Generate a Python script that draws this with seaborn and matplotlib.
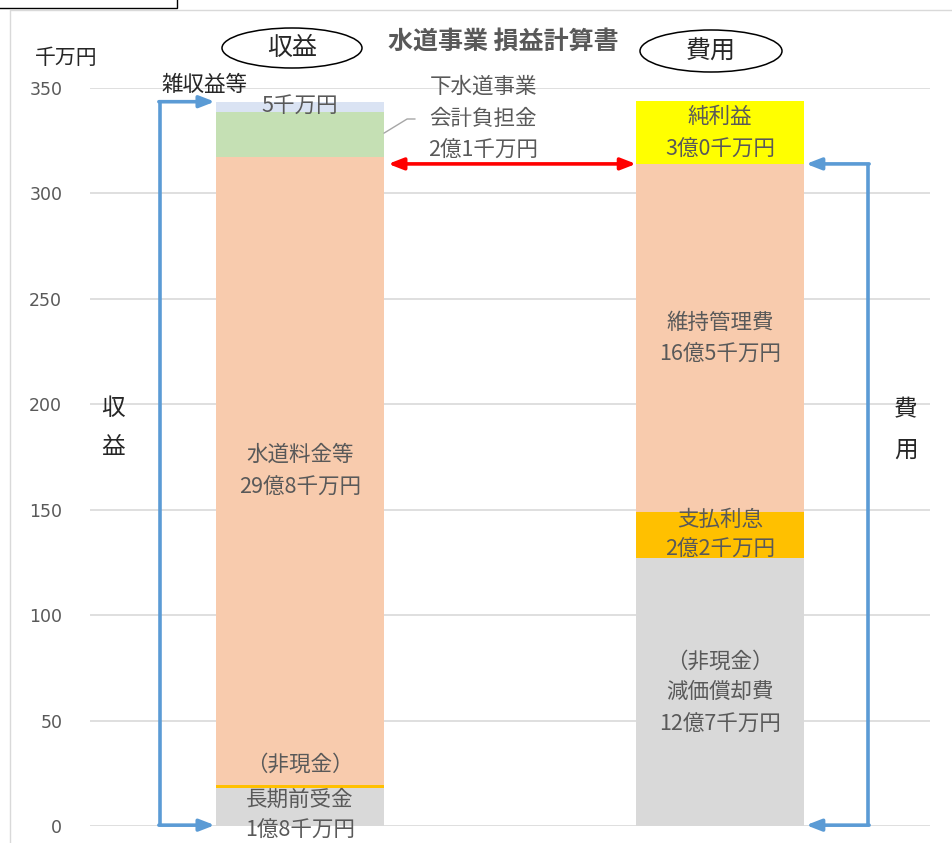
import numpy as np
import pandas as pd
import seaborn as sns
import matplotlib.pyplot as plt
from matplotlib.patches import Ellipse, Rectangle
from matplotlib.lines import Line2D

sns.set_style("white")
plt.rcParams['font.family'] = ['Noto Sans CJK JP', 'DejaVu Sans']

# ---- data (単位: 千万円) ----
categories = ["収益", "費用"]

revenue_items = ["長期前受金", "その他", "水道料金等", "下水道事業会計負担金", "雑収益等"]
revenue_values = [18, 1.5, 298, 21, 5]

expense_items = ["減価償却費", "支払利息", "維持管理費", "純利益"]
expense_values = [127, 22, 165, 30]

yticks = [0, 50, 100, 150, 200, 250, 300, 350]

# ---- styles ----
revenue_colors = ["#D9D9D9", "#FFC000", "#F8CBAD", "#C5E0B4", "#DAE3F3"]
expense_colors = ["#D9D9D9", "#FFC000", "#F8CBAD", "#FFFF00"]
label_color = "#595959"
text_dark = "#262626"
blue = "#5B9BD5"

rows = []
for cat, vals, cols in [(categories[0], revenue_values, revenue_colors),
                        (categories[1], expense_values, expense_colors)]:
    tops = np.cumsum(vals)
    for top, c in zip(tops, cols):
        rows.append({"cat": cat, "top": top, "color": c})
segments = pd.DataFrame(rows)

W, H, DPI = 953, 843, 100
fig = plt.figure(figsize=(W / DPI, H / DPI), dpi=DPI)
ax = fig.add_axes([90 / W, 1 - 826 / H, 840 / W, 738 / H])

# stacked bars: draw cumulative heights, tallest first
for _, r in segments.sort_values("top", ascending=False).iterrows():
    sns.barplot(x=[r["cat"]], y=[r["top"]], order=categories, color=r["color"],
                width=0.4, saturation=1, ax=ax, linewidth=0)

ax.set_ylim(0, 350)
ax.set_xlim(-0.5, 1.5)
ax.set_yticks(yticks)
ax.set_xticks([])
ax.set_xlabel("")
ax.set_ylabel("")
ax.set_axisbelow(True)
ax.yaxis.grid(True, color="#D9D9D9", linewidth=1.2)
for s in ax.spines.values():
    s.set_visible(False)
ax.tick_params(axis="y", length=0, pad=20, labelsize=12.5, labelcolor=label_color)
for t in ax.get_yticklabels():
    t.set_fontfamily("DejaVu Sans")

fs = 15.5
def lab(x, y, s, color=label_color, size=fs):
    ax.text(x, y, s, ha="center", va="center", color=color, fontsize=size, clip_on=False)

# revenue labels
lab(0, 341.5, "5千万円")
lab(0, 175.9, "水道料金等")
lab(0, 160.3, "29億8千万円")
lab(0, 28.9, "（非現金）")
lab(0, 12.3, "長期前受金")
lab(0, -2.5, "1億8千万円")
lab(-0.228, 351.4, "雑収益等", color=text_dark, size=15.5)
lab(0.436, 350.5, "下水道事業")
lab(0.436, 335.3, "会計負担金")
lab(0.436, 320.1, "2億1千万円")
ax.add_line(Line2D([0.2, 0.255, 0.274], [328.6, 335.3, 335.3], color="#A6A6A6",
                   lw=1, clip_on=False))

# expense labels
lab(1, 336.2, "純利益")
lab(1, 320.6, "3億0千万円")
lab(1, 238.5, "維持管理費")
lab(1, 223.4, "16億5千万円")
lab(1, 145.1, "支払利息")
lab(1, 130.9, "2億2千万円")
lab(1, 77.8, "（非現金）")
lab(1, 63.5, "減価償却費")
lab(1, 47.9, "12億7千万円")

# side captions
lab(-0.445, 198.2, "収", color=text_dark, size=17)
lab(-0.445, 179.7, "益", color=text_dark, size=17)
lab(1.443, 197.3, "費", color=text_dark, size=17)
lab(1.443, 178.3, "用", color=text_dark, size=17)

# brackets
rev_total = sum(revenue_values)
exp_base = sum(expense_values[:-1])
head = "-|>,head_length=0.9,head_width=0.35"
xl = -0.333
ax.plot([xl, xl], [rev_total, 0.4], color=blue, lw=2.6, clip_on=False, solid_capstyle="butt")
for yy in (rev_total, 0.4):
    ax.annotate("", xy=(-0.203, yy), xytext=(xl - 0.003, yy),
                arrowprops=dict(arrowstyle=head, color=blue, lw=2.6, shrinkA=0, shrinkB=0),
                annotation_clip=False)
xr = 1.352
ax.plot([xr, xr], [exp_base, 0.4], color=blue, lw=2.6, clip_on=False, solid_capstyle="butt")
for yy in (exp_base, 0.4):
    ax.annotate("", xy=(1.205, yy), xytext=(xr + 0.003, yy),
                arrowprops=dict(arrowstyle=head, color=blue, lw=2.6, shrinkA=0, shrinkB=0),
                annotation_clip=False)

# net-income arrow
ax.annotate("", xy=(0.8, exp_base), xytext=(0.21, exp_base),
            arrowprops=dict(arrowstyle="<|-|>,head_length=0.9,head_width=0.35",
                            color="#FF0000", lw=2.6, shrinkA=0, shrinkB=0),
            annotation_clip=False)

# header
fig.text(503 / W, 1 - 42 / H, "水道事業 損益計算書", ha="center", va="center",
         fontsize=18, fontweight="bold", color=label_color)
fig.text(66 / W, 1 - 58 / H, "千万円", ha="center", va="center", fontsize=15, color=text_dark)
fig.text(292 / W, 1 - 48 / H, "収益", ha="center", va="center", fontsize=18, color=text_dark)
fig.text(711 / W, 1 - 52 / H, "費用", ha="center", va="center", fontsize=18, color=text_dark)
fig.patches.append(Ellipse((292 / W, 1 - 48 / H), 140 / W, 40 / H, transform=fig.transFigure,
                           fill=False, ec="black", lw=1.1))
fig.patches.append(Ellipse((711 / W, 1 - 51 / H), 142 / W, 42 / H, transform=fig.transFigure,
                           fill=False, ec="black", lw=1.1))

# frame
fig.add_artist(Line2D([10 / W, 1], [1 - 10 / H, 1 - 10 / H], transform=fig.transFigure,
                      color="#D9D9D9", lw=1))
fig.add_artist(Line2D([10 / W, 10 / W], [1 - 10 / H, 0], transform=fig.transFigure,
                      color="#D9D9D9", lw=1))
fig.patches.append(Rectangle((-0.01, 1 - 8 / H), 177 / W + 0.01, 0.02, transform=fig.transFigure,
                             fill=False, ec="black", lw=1))

fig.savefig("out.png", dpi=DPI)
